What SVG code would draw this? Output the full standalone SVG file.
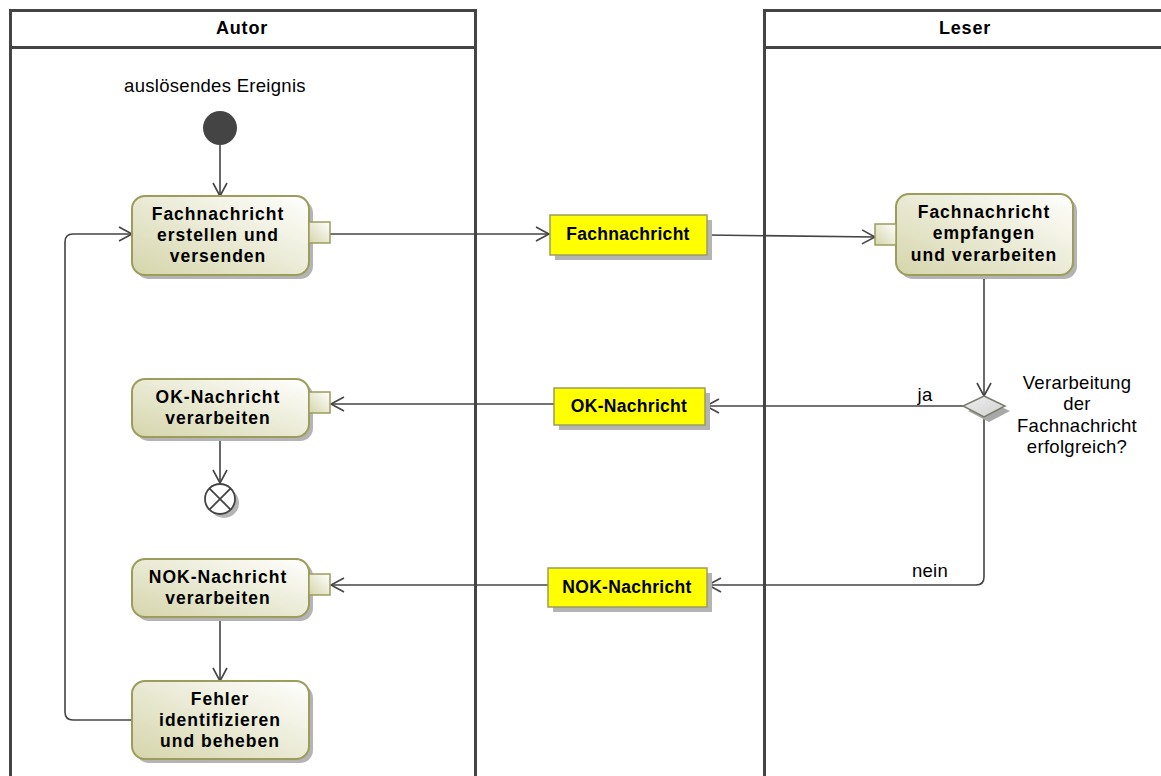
<svg xmlns="http://www.w3.org/2000/svg" width="1161" height="776" viewBox="0 0 1161 776">
<style>
.lane{fill:none;stroke:#444;stroke-width:3}
.hdr{font-family:"Liberation Sans",Arial,sans-serif;font-weight:bold;font-size:18px;fill:#000;text-anchor:middle;letter-spacing:0.8px}
.act{fill:url(#g);stroke:#9c9c5c;stroke-width:2}
.pin{fill:url(#g);stroke:#9c9c5c;stroke-width:1.5}
.sh{fill:#b4b4b4}
.at{font-family:"Liberation Sans",Arial,sans-serif;font-weight:bold;font-size:17.5px;fill:#000;text-anchor:middle;letter-spacing:1px}
.obj{fill:#ffff00;stroke:#9c9c5c;stroke-width:1.5}
.ot{font-family:"Liberation Sans",Arial,sans-serif;font-weight:bold;font-size:17.5px;fill:#000;text-anchor:middle;letter-spacing:0.3px}
.lbl{font-family:"Liberation Sans",Arial,sans-serif;font-size:18.5px;fill:#000;text-anchor:middle;letter-spacing:0.3px}
.c{fill:none;stroke:#444;stroke-width:1.6}
</style>
<defs>
<linearGradient id="g" x1="0" y1="1" x2="1" y2="0">
<stop offset="0" stop-color="#d5d5ab"/>
<stop offset="1" stop-color="#ffffff"/>
</linearGradient>
<linearGradient id="dg" x1="0" y1="0" x2="1" y2="1">
<stop offset="0" stop-color="#f0f0f0"/>
<stop offset="1" stop-color="#cfcfcf"/>
</linearGradient>
<marker id="a" markerUnits="userSpaceOnUse" markerWidth="16" markerHeight="16" viewBox="0 0 16 16" refX="14" refY="8" orient="auto">
<path d="M1,1 L14,8 L1,15" fill="none" stroke="#444" stroke-width="1.6"/>
</marker>
</defs>
<rect width="1161" height="776" fill="#fff"/>
<g id="lane-autor">
<rect class="lane" x="10.5" y="10.5" width="465" height="800"/>
<line class="lane" x1="10.5" y1="47.5" x2="475.5" y2="47.5"/>
<text class="hdr" x="242" y="34">Autor</text>
</g>
<g id="lane-leser">
<rect class="lane" x="764.5" y="10.5" width="500" height="800"/>
<line class="lane" x1="764.5" y1="47.5" x2="1161" y2="47.5"/>
<text class="hdr" x="965" y="34">Leser</text>
</g>
<g id="connectors">
<line class="c" x1="220" y1="145" x2="220" y2="196" marker-end="url(#a)"/>
<line class="c" x1="330" y1="234" x2="549" y2="234" marker-end="url(#a)"/>
<line class="c" x1="707" y1="235" x2="875" y2="237" marker-end="url(#a)"/>
<line class="c" x1="984" y1="275" x2="984" y2="396" marker-end="url(#a)"/>
<line class="c" x1="963" y1="406" x2="706" y2="406" marker-end="url(#a)"/>
<line class="c" x1="554" y1="404" x2="331" y2="404" marker-end="url(#a)"/>
<line class="c" x1="220" y1="437" x2="220" y2="483" marker-end="url(#a)"/>
<path class="c" d="M984,417 L984,577 Q984,585 976,585 L708,585" marker-end="url(#a)"/>
<line class="c" x1="548" y1="585" x2="331" y2="585" marker-end="url(#a)"/>
<line class="c" x1="220" y1="617" x2="220" y2="681" marker-end="url(#a)"/>
<path class="c" d="M132,720 L73,720 Q65,720 65,712 L65,242 Q65,234 73,234 L132,234" marker-end="url(#a)"/>
<text class="lbl" x="925" y="401">ja</text>
<text class="lbl" x="930" y="577">nein</text>
</g>
<g id="start">
<text class="lbl" x="215" y="92">auslösendes Ereignis</text>
<circle cx="220" cy="128" r="17" fill="#444"/>
</g>
<g id="n-erstellen">
<rect class="sh" x="136" y="200" width="177" height="79" rx="13"/>
<rect class="act" x="132" y="196" width="177" height="79" rx="13"/>
<rect class="pin" x="309" y="222" width="21" height="21"/>
<text class="at" x="218" y="220">Fachnachricht</text>
<text class="at" x="218" y="241">erstellen und</text>
<text class="at" x="218" y="262">versenden</text>
</g>
<g id="o-fach">
<rect class="sh" x="555" y="220" width="157" height="40"/>
<rect class="obj" x="550" y="215" width="157" height="40"/>
<text class="ot" x="628" y="240">Fachnachricht</text>
</g>
<g id="n-empfangen">
<rect class="sh" x="900" y="198" width="177" height="81" rx="13"/>
<rect class="act" x="896" y="194" width="177" height="81" rx="13"/>
<rect class="pin" x="875" y="224" width="21" height="21"/>
<text class="at" x="984" y="218">Fachnachricht</text>
<text class="at" x="984" y="239">empfangen</text>
<text class="at" x="984" y="261">und verarbeiten</text>
</g>
<g id="decision">
<polygon points="989,401 1010,411 989,422 968,411" fill="#a8a8a8"/>
<polygon points="984,396 1005,406 984,417 963,406" fill="url(#dg)" stroke="#7a7a6a" stroke-width="1.5"/>
<text class="lbl" x="1077" y="389">Verarbeitung</text>
<text class="lbl" x="1077" y="410">der</text>
<text class="lbl" x="1077" y="432">Fachnachricht</text>
<text class="lbl" x="1077" y="453">erfolgreich?</text>
</g>
<g id="o-ok">
<rect class="sh" x="559" y="393" width="151" height="37"/>
<rect class="obj" x="554" y="388" width="151" height="37"/>
<text class="ot" x="629" y="412">OK-Nachricht</text>
</g>
<g id="n-ok">
<rect class="sh" x="136" y="383" width="177" height="58" rx="13"/>
<rect class="act" x="132" y="379" width="177" height="58" rx="13"/>
<rect class="pin" x="309" y="392" width="21" height="21"/>
<text class="at" x="218" y="403">OK-Nachricht</text>
<text class="at" x="218" y="424">verarbeiten</text>
</g>
<g id="final">
<circle cx="224" cy="503" r="15" fill="#b4b4b4"/>
<circle cx="220" cy="499" r="15" fill="#fff" stroke="#444" stroke-width="1.8"/>
<path d="M209.4,488.4 L230.6,509.6 M230.6,488.4 L209.4,509.6" stroke="#444" stroke-width="1.8"/>
</g>
<g id="o-nok">
<rect class="sh" x="553" y="573" width="159" height="39"/>
<rect class="obj" x="548" y="568" width="159" height="39"/>
<text class="ot" x="627" y="593">NOK-Nachricht</text>
</g>
<g id="n-nok">
<rect class="sh" x="136" y="563" width="177" height="58" rx="13"/>
<rect class="act" x="132" y="559" width="177" height="58" rx="13"/>
<rect class="pin" x="309" y="574" width="21" height="21"/>
<text class="at" x="218" y="583">NOK-Nachricht</text>
<text class="at" x="218" y="604">verarbeiten</text>
</g>
<g id="n-fehler">
<rect class="sh" x="136" y="685" width="177" height="78" rx="13"/>
<rect class="act" x="132" y="681" width="177" height="78" rx="13"/>
<text class="at" x="220" y="705">Fehler</text>
<text class="at" x="220" y="726">identifizieren</text>
<text class="at" x="220" y="747">und beheben</text>
</g>
</svg>
